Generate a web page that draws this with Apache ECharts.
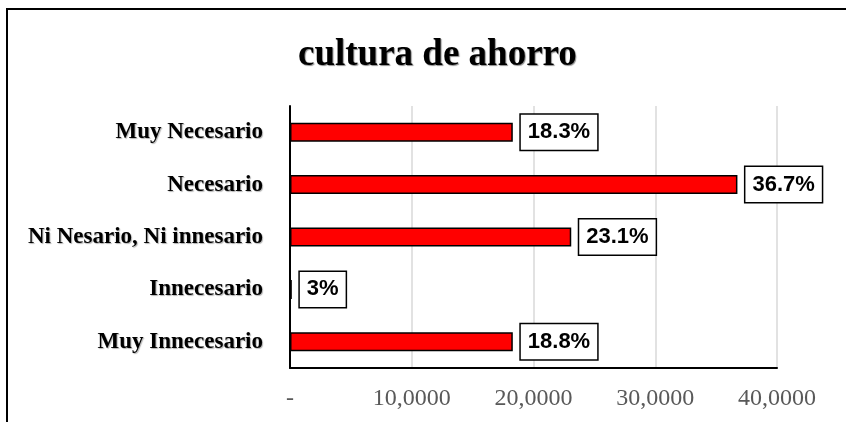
<!DOCTYPE html>
<html>
<head>
<meta charset="utf-8">
<script src="https://cdn.jsdelivr.net/npm/echarts@6/dist/echarts.min.js"></script>
<style>html,body{margin:0;padding:0;background:#fff;}#chart{width:846px;height:422px;}</style>
</head>
<body>
<div id="chart"></div>
<script>
var categories = ['Muy Necesario', 'Necesario', 'Ni Nesario, Ni innesario', 'Innecesario', 'Muy Innecesario'];
var values = [18.3, 36.75, 23.1, 0.15, 18.3];
var valueLabels = ['18.3%', '36.7%', '23.1%', '3%', '18.8%'];
var xTickLabels = ['-', '10,0000', '20,0000', '30,0000', '40,0000'];
var titleText = 'cultura de ahorro';

var chart = echarts.init(document.getElementById('chart'));
chart.setOption({
  animation: false,
  backgroundColor: '#ffffff',
  title: {
    text: titleText,
    left: 293,
    top: 32,
    textStyle: {
      fontFamily: 'Liberation Serif',
      fontWeight: 'bold',
      fontSize: 37,
      color: '#000',
      textShadowColor: 'rgba(0,0,0,0.45)',
      textShadowOffsetX: 1,
      textShadowOffsetY: 1,
      textShadowBlur: 1
    }
  },
  graphic: [{
    type: 'rect',
    shape: { x: 7, y: 9, width: 900, height: 500 },
    style: { fill: 'none', stroke: '#000', lineWidth: 2 },
    silent: true
  }],
  grid: { left: 290, right: 69, top: 106, bottom: 54 },
  xAxis: {
    type: 'value',
    min: 0,
    max: 40,
    interval: 10,
    axisLine: { show: true, lineStyle: { color: '#000', width: 2 } },
    axisTick: { show: false },
    splitLine: { show: true, lineStyle: { color: '#d9d9d9', width: 1.5 } },
    axisLabel: {
      margin: 19,
      fontFamily: 'Liberation Serif',
      fontSize: 24,
      color: '#595959',
      formatter: function (v) { return xTickLabels[Math.round(v / 10)]; }
    }
  },
  yAxis: {
    type: 'category',
    data: categories,
    inverse: true,
    axisLine: { show: true, lineStyle: { color: '#000', width: 2 } },
    axisTick: { show: false },
    axisLabel: {
      margin: 27,
      fontFamily: 'Liberation Serif',
      fontWeight: 'bold',
      fontSize: 23,
      color: '#000',
      textShadowColor: 'rgba(0,0,0,0.3)',
      textShadowOffsetX: 1,
      textShadowOffsetY: 1,
      textShadowBlur: 1
    }
  },
  series: [{
    type: 'bar',
    data: values,
    barWidth: 19,
    itemStyle: { color: '#ff0000', borderColor: '#000', borderWidth: 1.5 },
    label: {
      show: true,
      position: 'right',
      distance: 8,
      formatter: function (p) { return valueLabels[p.dataIndex]; },
      fontFamily: 'Liberation Sans',
      fontWeight: 'bold',
      fontSize: 22,
      color: '#000',
      backgroundColor: '#fff',
      borderColor: '#000',
      borderWidth: 1.5,
      padding: [7, 7, 6, 7]
    }
  }]
});
</script>
</body>
</html>
